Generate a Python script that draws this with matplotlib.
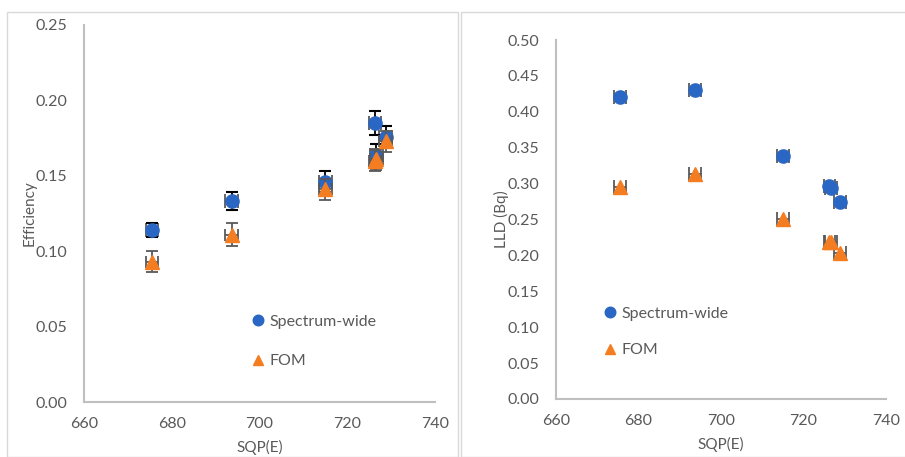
import matplotlib.pyplot as plt
from matplotlib.patches import Rectangle

# Data
sqp = [675.5, 693.7, 715.0, 726.3, 726.6, 728.8]
sqp_err = [1.45, 1.45, 1.45, 1.45, 1.45, 1.45]

eff_wide = [0.114, 0.133, 0.146, 0.185, 0.164, 0.176]
eff_wide_err = [0.0047, 0.006, 0.007, 0.0077, 0.007, 0.007]
eff_fom = [0.093, 0.111, 0.141, 0.160, 0.161, 0.173]
eff_fom_err = [0.007, 0.0076, 0.007, 0.007, 0.007, 0.007]

lld_wide = [0.420, 0.430, 0.338, 0.297, 0.294, 0.274]
lld_fom = [0.295, 0.314, 0.251, 0.219, 0.219, 0.203]

blue = '#2a67c4'
orange = '#f47d22'
grey = '#595959'
axcol = '#bfbfbf'

plt.rcParams['font.family'] = ['Lato', 'DejaVu Sans']

fig = plt.figure(figsize=(9.05, 4.57), dpi=100)
W, H = 905, 457

# panel frames like the Excel chart areas
fig.add_artist(Rectangle((7 / W, 0), 451 / W, 1 - 12 / H, transform=fig.transFigure,
                         fill=False, edgecolor='#d9d9d9', lw=1))
fig.add_artist(Rectangle((461 / W, 0), 450 / W, 1 - 12 / H, transform=fig.transFigure,
                         fill=False, edgecolor='#d9d9d9', lw=1))

ax1 = fig.add_axes([84 / W, 1 - 402 / H, 351 / W, 377 / H])
ax2 = fig.add_axes([556 / W, 1 - 399 / H, 330 / W, 359 / H])

# left chart: efficiency
ax1.errorbar(sqp, eff_wide, xerr=sqp_err, fmt='none', ecolor=grey, elinewidth=1.3, capsize=5, capthick=1.3, zorder=2)
ax1.errorbar(sqp, eff_wide, yerr=eff_wide_err, fmt='none', ecolor='black', elinewidth=1.3, capsize=4, capthick=1.5, zorder=2)
ax1.plot(sqp, eff_wide, 'o', color=blue, ms=9.5, label='Spectrum-wide', zorder=3)
ax1.errorbar(sqp, eff_fom, xerr=sqp_err, yerr=eff_fom_err, fmt='none', ecolor=grey, elinewidth=1.3, capsize=4, capthick=1.3, zorder=4)
ax1.plot(sqp, eff_fom, '^', color=orange, ms=9.5, label='FOM', zorder=5)
ax1.set_xlim(660, 740)
ax1.set_ylim(0, 0.25)
ax1.set_xticks([660, 680, 700, 720, 740])
ax1.set_yticks([0, 0.05, 0.10, 0.15, 0.20, 0.25])
ax1.set_yticklabels(['0.00', '0.05', '0.10', '0.15', '0.20', '0.25'])
ax1.set_ylabel('Efficiency', fontsize=11, color=grey, labelpad=-1)
ax1.legend(loc='upper left', bbox_to_anchor=(0.473, 0.232), frameon=False, fontsize=11.5,
           handlelength=1, handletextpad=0.2, labelspacing=1.6, borderpad=0, borderaxespad=0,
           markerscale=0.8, labelcolor=grey)

# right chart: LLD
ax2.errorbar(sqp, lld_wide, xerr=sqp_err, fmt='none', ecolor=grey, elinewidth=1.3, capsize=5, capthick=1.3, zorder=2)
ax2.plot(sqp, lld_wide, 'o', color=blue, ms=9.5, label='Spectrum-wide', zorder=3)
ax2.errorbar(sqp, lld_fom, xerr=sqp_err, fmt='none', ecolor=grey, elinewidth=1.3, capsize=5, capthick=1.3, zorder=4)
ax2.plot(sqp, lld_fom, '^', color=orange, ms=9.5, label='FOM', zorder=5)
ax2.set_xlim(660, 740)
ax2.set_ylim(0, 0.5)
ax2.set_xticks([660, 680, 700, 720, 740])
ticks = [i * 0.05 for i in range(11)]
ax2.set_yticks(ticks)
ax2.set_yticklabels([f'{t:.2f}' for t in ticks])
ax2.set_ylabel('LLD (Bq)', fontsize=11, color=grey, labelpad=-1)
ax2.legend(loc='upper left', bbox_to_anchor=(0.14, 0.258), frameon=False, fontsize=11.5,
           handlelength=1, handletextpad=0.2, labelspacing=1.4, borderpad=0, borderaxespad=0,
           markerscale=0.8, labelcolor=grey)

for ax in (ax1, ax2):
    for s in ('top', 'right'):
        ax.spines[s].set_visible(False)
    for s in ('left', 'bottom'):
        ax.spines[s].set_color(axcol)
        ax.spines[s].set_linewidth(1.5)
    ax.tick_params(length=0, labelsize=11.5, labelcolor=grey)
    ax.tick_params(axis='x', pad=11)
    ax.tick_params(axis='y', pad=12)
    ax.set_xlabel('SQP(E)', fontsize=11, color=grey, labelpad=6.5)
    ax.patch.set_visible(False)

fig.savefig('out.png', dpi=100)
